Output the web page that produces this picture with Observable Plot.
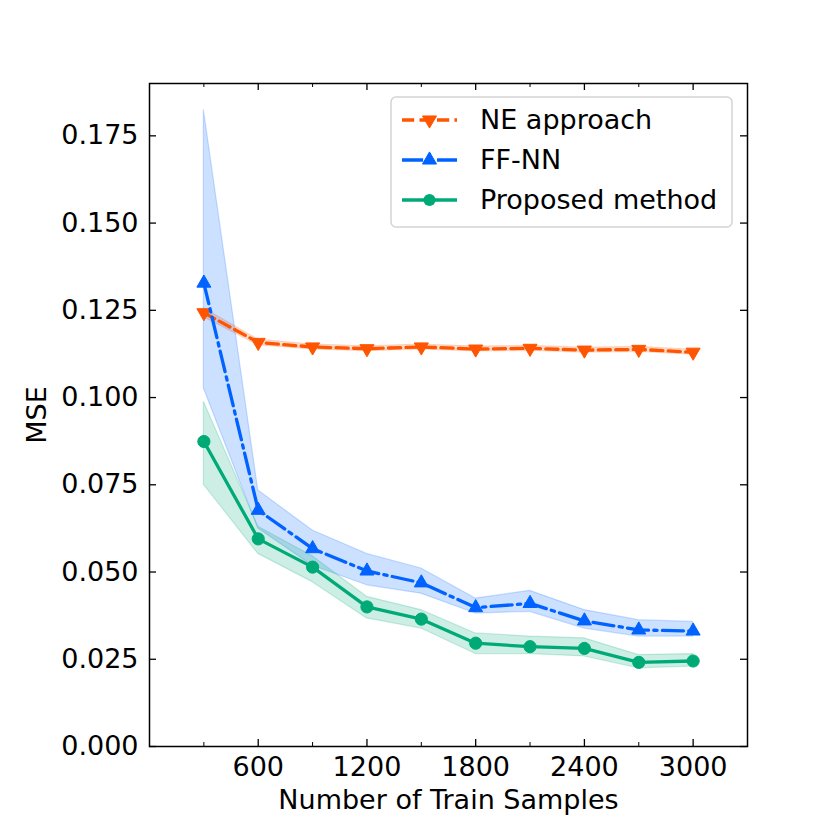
<!DOCTYPE html>
<html>
<head>
<meta charset="utf-8">
<script src="https://cdn.jsdelivr.net/npm/d3@7"></script>
<script src="https://cdn.jsdelivr.net/npm/@observablehq/plot@0.6"></script>
<style>
  html, body { margin: 0; padding: 0; background: #fff; }
  #wrap { position: relative; width: 830px; height: 830px; }
  #legend { position: absolute; left: 0; top: 0; pointer-events: none; }
</style>
</head>
<body>
<div id="wrap"></div>
<script>
// ---- data ----
const xs = [300, 600, 900, 1200, 1500, 1800, 2100, 2400, 2700, 3000];
const seriesNames = ["NE approach", "FF-NN", "Proposed method"];

const neMean = [0.1243, 0.1158, 0.1145, 0.1140, 0.1145, 0.1139, 0.1141, 0.1136, 0.1138, 0.1130];
const neLo   = [0.1230, 0.1150, 0.1138, 0.1133, 0.1138, 0.1132, 0.1134, 0.1129, 0.1131, 0.1123];
const neHi   = [0.1256, 0.1166, 0.1152, 0.1147, 0.1152, 0.1146, 0.1148, 0.1143, 0.1145, 0.1137];

const ffMean = [0.1328, 0.0677, 0.0567, 0.0503, 0.0469, 0.0398, 0.0410, 0.0360, 0.0334, 0.0331];
const ffLo   = [0.1026, 0.0625, 0.0518, 0.0462, 0.0438, 0.0381, 0.0386, 0.0338, 0.0315, 0.0315];
const ffHi   = [0.1824, 0.0734, 0.0619, 0.0552, 0.0510, 0.0424, 0.0446, 0.0391, 0.0362, 0.0357];

const pmMean = [0.0874, 0.0595, 0.0514, 0.0400, 0.0365, 0.0296, 0.0286, 0.0281, 0.0241, 0.0245];
const pmLo   = [0.0750, 0.0552, 0.0471, 0.0367, 0.0338, 0.0265, 0.0265, 0.0258, 0.0224, 0.0229];
const pmHi   = [0.0988, 0.0630, 0.0545, 0.0429, 0.0391, 0.0324, 0.0315, 0.0310, 0.0262, 0.0265];

const xMajorTicks = [600, 1200, 1800, 2400, 3000];
const xMinorTicks = [300, 900, 1500, 2100, 2700];
const yTicks = [0, 0.025, 0.05, 0.075, 0.1, 0.125, 0.15, 0.175];

// ---- styles ----
const colors = ["#ff5500", "#0062ff", "#00aa77"];
const lw = 3.3;
const dashes = [`${3.7*lw},${1.6*lw}`, `${6.4*lw},${1.6*lw},${1*lw},${1.6*lw}`, null];
const symbols = ["triangle", "triangle", "circle"];
const rotates = [180, 0, 0];
const radii = [5.2, 5.2, 6.1];

const W = 830, H = 830;
const mL = 149, mR = 83, mT = 83, mB = 84;
const innerW = W - mL - mR, innerH = H - mT - mB;
const FONT = "DejaVu Sans";

const means = [neMean, ffMean, pmMean];
const los = [neLo, ffLo, pmLo];
const his = [neHi, ffHi, pmHi];
const series = seriesNames.map((name, i) => ({
  name,
  rows: xs.map((x, j) => ({x, mean: means[i][j], lo: los[i][j], hi: his[i][j]}))
}));

const marks = [];
series.forEach((s, i) => {
  marks.push(Plot.areaY(s.rows, {x: "x", y1: "lo", y2: "hi", fill: colors[i], fillOpacity: 0.2,
    stroke: colors[i], strokeOpacity: 0.2, strokeWidth: 1.2}));
});
series.forEach((s, i) => {
  marks.push(Plot.line(s.rows, {x: "x", y: "mean", stroke: colors[i], strokeWidth: lw,
    strokeDasharray: dashes[i] || undefined}));
  marks.push(Plot.dot(s.rows, {x: "x", y: "mean", symbol: symbols[i], r: radii[i],
    fill: colors[i], stroke: colors[i], strokeWidth: 1, rotate: rotates[i]}));
});

// ticks (inward, all four sides)
marks.push(Plot.tickX(xMajorTicks, {x: d => d, insetTop: innerH - 7, stroke: "black", strokeWidth: 1.3}));
marks.push(Plot.tickX(xMajorTicks, {x: d => d, insetBottom: innerH - 7, stroke: "black", strokeWidth: 1.3}));
marks.push(Plot.tickX(xMinorTicks, {x: d => d, insetTop: innerH - 4, stroke: "black", strokeWidth: 1}));
marks.push(Plot.tickX(xMinorTicks, {x: d => d, insetBottom: innerH - 4, stroke: "black", strokeWidth: 1}));
marks.push(Plot.tickY(yTicks, {y: d => d, insetRight: innerW - 7, stroke: "black", strokeWidth: 1.3}));
marks.push(Plot.tickY(yTicks, {y: d => d, insetLeft: innerW - 7, stroke: "black", strokeWidth: 1.3}));

// axes labels (tick text)
marks.push(Plot.axisX(xMajorTicks, {tickSize: 0, tickPadding: 10, fontSize: 27, label: null,
  tickFormat: d => String(d)}));
marks.push(Plot.axisY(yTicks, {tickSize: 0, tickPadding: 11, fontSize: 27, label: null,
  tickFormat: d3.format(".3f")}));
marks.push(Plot.frame({stroke: "black", strokeWidth: 1.5}));

// axis titles
marks.push(Plot.text(["Number of Train Samples"], {text: d => d, frameAnchor: "bottom", dy: 62,
  fontSize: 27, fill: "black"}));
marks.push(Plot.text(["MSE"], {text: d => d, frameAnchor: "left", dx: -112, rotate: -90,
  textAnchor: "middle", fontSize: 27, fill: "black"}));

const chart = Plot.plot({
  width: W, height: H,
  marginLeft: mL, marginRight: mR, marginTop: mT, marginBottom: mB,
  style: {fontFamily: FONT, fontSize: "27px", color: "black", background: "white", overflow: "visible"},
  x: {domain: [0, 3300]},
  y: {domain: [0, 0.19]},
  marks
});

const wrap = document.getElementById("wrap");
wrap.appendChild(chart);

// ---- legend overlay ----
const ns = "http://www.w3.org/2000/svg";
const leg = d3.select(wrap).append("svg")
  .attr("id", "legend").attr("width", W).attr("height", H)
  .attr("xmlns", ns);
const lx = 391, ly = 97, lwid = 341, lht = 130;
leg.append("rect").attr("x", lx).attr("y", ly).attr("width", lwid).attr("height", lht)
  .attr("rx", 5).attr("fill", "white").attr("fill-opacity", 0.8)
  .attr("stroke", "#d4d4d4").attr("stroke-width", 1.5);
seriesNames.forEach((name, i) => {
  const cy = 120 + 40 * i;
  const g = leg.append("g");
  g.append("line").attr("x1", 402).attr("x2", 457).attr("y1", cy).attr("y2", cy)
    .attr("stroke", colors[i]).attr("stroke-width", lw)
    .attr("stroke-dasharray", dashes[i] || null);
  if (symbols[i] === "circle") {
    g.append("circle").attr("cx", 429.5).attr("cy", cy).attr("r", radii[i]).attr("fill", colors[i]);
  } else {
    const p = d3.symbol().type(d3.symbolTriangle).size(Math.PI * radii[i] * radii[i])();
    g.append("path").attr("d", p).attr("fill", colors[i]).attr("stroke", colors[i])
      .attr("transform", `translate(429.5,${cy}) rotate(${rotates[i]})`);
  }
  g.append("text").attr("x", 480).attr("y", cy).attr("dy", "0.35em")
    .attr("font-family", FONT).attr("font-size", 27).attr("fill", "black").text(name);
});
</script>
</body>
</html>
